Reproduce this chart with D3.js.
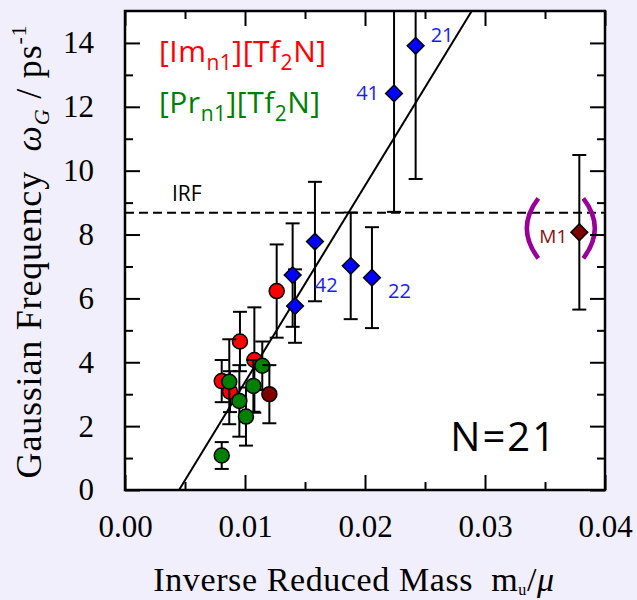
<!DOCTYPE html>
<html>
<head>
<meta charset="utf-8">
<script src="https://cdn.jsdelivr.net/npm/d3@7"></script>
<style>
  html, body { margin: 0; padding: 0; background: #f1effc; }
  svg { display: block; }
</style>
</head>
<body>
<svg id="chart" width="637" height="600"></svg>
<script>
// ---- data ----
// [Im_n1][Tf2N] ionic liquids
const imX   = [0.00958, 0.01078, 0.00806, 0.00875, 0.01264];
const imY   = [4.65, 4.07, 3.41, 3.08, 6.23];
const imErr = [0.93, 1.65, 0.66, 0.64, 1.46];

// [Pr_n1][Tf2N] ionic liquids
const prX   = [0.01144, 0.00869, 0.01070, 0.00953, 0.01008, 0.00806];
const prY   = [3.89, 3.39, 3.26, 2.79, 2.30, 1.08];
const prErr = [0.76, 1.33, 0.81, 1.12, 0.91, 0.42];

// additional circle (dark red)
const otherX   = [0.01203];
const otherY   = [3.00];
const otherErr = [0.91];

// diamond series with numeric labels
const dmX     = [0.02422, 0.02242, 0.01583, 0.01397, 0.01417, 0.01881, 0.02058];
const dmY     = [13.91, 12.42, 7.78, 6.73, 5.76, 7.02, 6.65];
const dmErr   = [4.17, 3.71, 1.87, 1.62, 1.15, 1.67, 1.58];
const dmLabel = ["21", "41", "", "", "", "42", "22"];

// M1 (excluded from the fit)
const m1X = [0.03786];
const m1Y = [8.07];
const m1Err = [2.42];

// linear fit  omega = slope * x + intercept
const fitSlope = 615;
const fitIntercept = -2.77;

// instrument response limit
const irfLevel = 8.68;

const xMajorTicks = [0, 0.01, 0.02, 0.03, 0.04];
const xTickLabels = ["0.00", "0.01", "0.02", "0.03", "0.04"];
const xMinorTicks = [0.005, 0.015, 0.025, 0.035];
const yMajorTicks = [0, 2, 4, 6, 8, 10, 12, 14];
const yMinorTicks = [1, 3, 5, 7, 9, 11, 13];

// ---- layout ----
const svg = d3.select("#chart");
const L = 125, R = 605, T = 11, B = 490;
const x = d3.scaleLinear().domain([0, 0.04]).range([L, R]);
const y = d3.scaleLinear().domain([0, 15]).range([B, T]);

const SANS = "'Open Sans', 'Noto Sans', sans-serif";
const SERIF = "'Liberation Serif', 'Times New Roman', serif";

svg.append("rect").attr("width", 637).attr("height", 600).attr("fill", "#f1effc");
svg.append("rect").attr("x", L).attr("y", T).attr("width", R - L).attr("height", B - T).attr("fill", "#ffffff");

svg.append("defs").append("clipPath").attr("id", "plotclip")
  .append("rect").attr("x", L).attr("y", T).attr("width", R - L).attr("height", B - T);

const plot = svg.append("g").attr("clip-path", "url(#plotclip)");

// IRF dashed line
plot.append("line")
  .attr("x1", L).attr("x2", R)
  .attr("y1", y(irfLevel)).attr("y2", y(irfLevel))
  .attr("stroke", "#000").attr("stroke-width", 2)
  .attr("stroke-dasharray", "9,5");

// fit line
const fitX0 = -fitIntercept / fitSlope;
const fitX1 = (15 - fitIntercept) / fitSlope;
plot.append("line")
  .attr("x1", x(fitX0)).attr("y1", y(fitSlope * fitX0 + fitIntercept))
  .attr("x2", x(fitX1)).attr("y2", y(fitSlope * fitX1 + fitIntercept))
  .attr("stroke", "#000").attr("stroke-width", 2);

function series(xs, ys, es, labels) {
  return xs.map((v, i) => ({ x: v, y: ys[i], e: es[i], label: labels ? labels[i] : "" }));
}

const capW = 7;
function drawErrorBars(g, data) {
  const eb = g.append("g").attr("stroke", "#000").attr("stroke-width", 2).attr("fill", "none");
  data.forEach(d => {
    eb.append("line").attr("x1", x(d.x)).attr("x2", x(d.x))
      .attr("y1", y(d.y - d.e)).attr("y2", y(d.y + d.e));
    eb.append("line").attr("x1", x(d.x) - capW).attr("x2", x(d.x) + capW)
      .attr("y1", y(d.y - d.e)).attr("y2", y(d.y - d.e));
    eb.append("line").attr("x1", x(d.x) - capW).attr("x2", x(d.x) + capW)
      .attr("y1", y(d.y + d.e)).attr("y2", y(d.y + d.e));
  });
}
function drawCircles(g, data, color) {
  g.append("g").selectAll("circle").data(data).join("circle")
    .attr("cx", d => x(d.x)).attr("cy", d => y(d.y)).attr("r", 7.5)
    .attr("fill", color).attr("stroke", "#000").attr("stroke-width", 1.5);
}
const diamond = d3.symbol().type(d3.symbolSquare).size(140);
function drawDiamonds(g, data, color) {
  g.append("g").selectAll("path").data(data).join("path")
    .attr("d", diamond)
    .attr("transform", d => `translate(${x(d.x)},${y(d.y)}) rotate(45)`)
    .attr("fill", color).attr("stroke", "#000").attr("stroke-width", 1.5);
}

const imData = series(imX, imY, imErr);
const prData = series(prX, prY, prErr);
const otherData = series(otherX, otherY, otherErr);
const dmData = series(dmX, dmY, dmErr, dmLabel);
const m1Data = series(m1X, m1Y, m1Err);

drawErrorBars(plot, imData);
drawCircles(plot, imData, "#ff0000");
drawErrorBars(plot, prData);
drawCircles(plot, prData, "#008000");
drawErrorBars(plot, otherData);
drawCircles(plot, otherData, "#800000");
drawErrorBars(plot, dmData);
drawDiamonds(plot, dmData, "#0000ff");
drawErrorBars(plot, m1Data);
drawDiamonds(plot, m1Data, "#800000");

// diamond labels
const labelOffsets = { "21": [15, -4, "start"], "41": [-15, 7, "end"], "42": [-13, 26, "end"], "22": [16, 20, "start"] };
plot.append("g").selectAll("text").data(dmData.filter(d => d.label)).join("text")
  .attr("x", d => x(d.x) + labelOffsets[d.label][0])
  .attr("y", d => y(d.y) + labelOffsets[d.label][1])
  .attr("text-anchor", d => labelOffsets[d.label][2])
  .attr("font-family", SANS).attr("font-size", 20)
  .attr("fill", "#1a1aff").text(d => d.label);

// M1 label and parentheses
const m1 = m1Data[0];
plot.append("text")
  .attr("x", x(m1.x) - 12).attr("y", y(m1.y) + 11)
  .attr("text-anchor", "end")
  .attr("font-family", SANS).attr("font-size", 19)
  .attr("fill", "#8b1010").text("M1");
const px = x(m1.x), py = y(m1.y) - 4;
plot.append("path")
  .attr("d", `M${px - 41},${py - 30} Q${px - 64},${py} ${px - 41},${py + 30}`)
  .attr("fill", "none").attr("stroke", "#990099").attr("stroke-width", 4.5);
plot.append("path")
  .attr("d", `M${px + 4},${py - 30} Q${px + 27},${py} ${px + 4},${py + 30}`)
  .attr("fill", "none").attr("stroke", "#990099").attr("stroke-width", 4.5);

// IRF label
svg.append("text").attr("x", 172).attr("y", y(irfLevel) - 12)
  .attr("font-family", SANS).attr("font-size", 21)
  .attr("fill", "#000").text("IRF");

// legend
function legendLine(yPos, color, head) {
  const t = svg.append("text").attr("x", 159).attr("y", yPos)
    .attr("font-family", SANS).attr("font-size", 30)
    .attr("letter-spacing", 0.5)
    .attr("fill", color);
  t.append("tspan").text("[" + head);
  t.append("tspan").attr("font-size", 21).attr("dy", 8).text("n1");
  t.append("tspan").attr("dy", -8).text("][Tf");
  t.append("tspan").attr("font-size", 21).attr("dy", 8).text("2");
  t.append("tspan").attr("dy", -8).text("N]");
}
legendLine(62, "#ff0000", "Im");
legendLine(113, "#008000", "Pr");

// N annotation
svg.append("text").attr("x", 557).attr("y", 451).attr("text-anchor", "end")
  .attr("font-family", SANS).attr("font-size", 40)
  .attr("letter-spacing", 2)
  .attr("fill", "#000").text("N=21");

// ---- axes ----
const axes = svg.append("g");
function styleAxis(g) {
  g.select(".domain").remove();
  g.selectAll(".tick line").attr("stroke", "#000").attr("stroke-width", 2);
  g.selectAll(".tick text").attr("font-family", SERIF)
    .attr("font-size", 31).attr("fill", "#000");
}
axes.append("g").attr("transform", `translate(0,${B})`)
  .call(d3.axisBottom(x).tickValues(xMajorTicks).tickSize(-15).tickPadding(25)
    .tickFormat((d, i) => xTickLabels[i]))
  .call(styleAxis);
axes.append("g").attr("transform", `translate(0,${B})`)
  .call(d3.axisBottom(x).tickValues(xMinorTicks).tickSize(-8).tickFormat(""))
  .call(styleAxis);
axes.append("g").attr("transform", `translate(0,${T})`)
  .call(d3.axisTop(x).tickValues(xMajorTicks).tickSize(-15).tickFormat(""))
  .call(styleAxis);
axes.append("g").attr("transform", `translate(0,${T})`)
  .call(d3.axisTop(x).tickValues(xMinorTicks).tickSize(-8).tickFormat(""))
  .call(styleAxis);
axes.append("g").attr("transform", `translate(${L},0)`)
  .call(d3.axisLeft(y).tickValues(yMajorTicks).tickSize(-15).tickPadding(31))
  .call(styleAxis);
axes.append("g").attr("transform", `translate(${L},0)`)
  .call(d3.axisLeft(y).tickValues(yMinorTicks).tickSize(-8).tickFormat(""))
  .call(styleAxis);
axes.append("g").attr("transform", `translate(${R},0)`)
  .call(d3.axisRight(y).tickValues(yMajorTicks).tickSize(-15).tickFormat(""))
  .call(styleAxis);
axes.append("g").attr("transform", `translate(${R},0)`)
  .call(d3.axisRight(y).tickValues(yMinorTicks).tickSize(-8).tickFormat(""))
  .call(styleAxis);

axes.append("rect").attr("x", L).attr("y", T).attr("width", R - L).attr("height", B - T)
  .attr("fill", "none").attr("stroke", "#000").attr("stroke-width", 2.5);

// axis titles
const xt = svg.append("text").attr("x", 354).attr("y", 591).attr("text-anchor", "middle")
  .attr("font-family", SERIF).attr("font-size", 34).attr("letter-spacing", 0.6).attr("fill", "#000");
xt.append("tspan").text("Inverse Reduced Mass\u00a0\u00a0m");
xt.append("tspan").attr("font-size", 16).attr("dy", 4).text("u");
xt.append("tspan").attr("dy", -4).text("/");
xt.append("tspan").attr("font-style", "italic").text("\u03bc");

const yt = svg.append("text")
  .attr("transform", `translate(41,${(T + B) / 2 + 1}) rotate(-90)`)
  .attr("text-anchor", "middle")
  .attr("font-family", SERIF).attr("font-size", 36).attr("letter-spacing", 0.8).attr("fill", "#000");
yt.append("tspan").text("Gaussian Frequency\u00a0\u00a0");
yt.append("tspan").attr("font-style", "italic").text("\u03c9");
yt.append("tspan").attr("font-style", "italic").attr("font-size", 22).attr("dy", 8).text("G");
yt.append("tspan").attr("dy", -8).text(" / ps");
yt.append("tspan").attr("font-size", 22).attr("dy", -15).text("-1");
</script>
</body>
</html>
